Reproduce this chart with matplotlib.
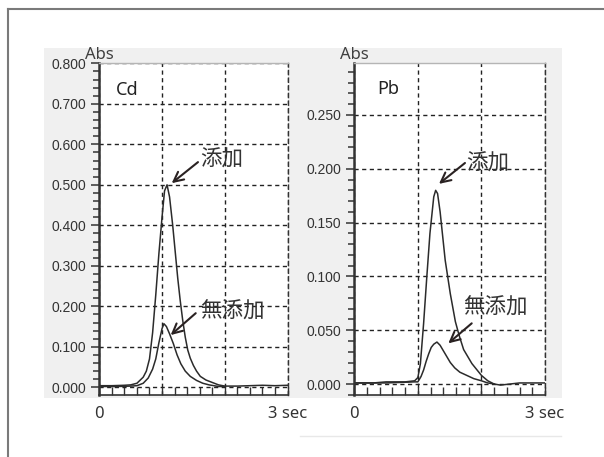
import matplotlib
matplotlib.use("Agg")
import matplotlib.pyplot as plt
from matplotlib.patches import Rectangle
from matplotlib.lines import Line2D
from matplotlib.ticker import MultipleLocator, FormatStrFormatter

# ---------------- data ----------------
cd_add_t = [0.0, 0.2, 0.4, 0.5, 0.6, 0.7, 0.75, 0.8, 0.85, 0.9, 0.95, 1.0, 1.04, 1.08,
            1.12, 1.17, 1.21, 1.25, 1.29, 1.33, 1.37, 1.41, 1.45, 1.5, 1.55, 1.61,
            1.7, 1.8, 1.9, 2.0, 2.2, 2.4, 2.6, 2.8, 3.0]
cd_add_v = [0.004, 0.004, 0.005, 0.006, 0.010, 0.025, 0.040, 0.070, 0.135, 0.228, 0.330,
            0.420, 0.485, 0.500, 0.470, 0.400, 0.335, 0.270, 0.214, 0.165, 0.124, 0.092,
            0.072, 0.054, 0.040, 0.027, 0.018, 0.012, 0.006, 0.003, 0.003, 0.004, 0.005,
            0.004, 0.005]

cd_none_t = [0.0, 0.3, 0.5, 0.6, 0.7, 0.78, 0.85, 0.9, 0.95, 1.0, 1.03, 1.07, 1.12, 1.18,
             1.24, 1.3, 1.37, 1.45, 1.55, 1.65, 1.75, 1.9, 2.0]
cd_none_v = [0.002, 0.002, 0.003, 0.004, 0.010, 0.023, 0.045, 0.070, 0.110, 0.145, 0.157,
             0.150, 0.132, 0.108, 0.080, 0.058, 0.040, 0.027, 0.017, 0.010, 0.006, 0.002,
             0.002]

pb_add_t = [0.0, 0.3, 0.5, 0.8, 0.95, 1.0, 1.04, 1.09, 1.14, 1.19, 1.25, 1.28, 1.31, 1.35,
            1.43, 1.51, 1.59, 1.65, 1.72, 1.85, 2.0, 2.1, 2.2, 2.3, 2.45, 2.6, 3.0]
pb_add_v = [0.001, 0.001, 0.002, 0.002, 0.003, 0.006, 0.019, 0.056, 0.099, 0.140, 0.174,
            0.180, 0.177, 0.160, 0.115, 0.084, 0.058, 0.045, 0.032, 0.019, 0.008, 0.003,
            0.000, -0.001, 0.000, 0.001, 0.001]

pb_none_t = [0.0, 0.5, 0.95, 1.0, 1.05, 1.09, 1.13, 1.17, 1.21, 1.25, 1.30, 1.35, 1.40,
             1.45, 1.51, 1.58, 1.66, 1.77, 1.88, 2.0, 2.1, 2.2]
pb_none_v = [0.001, 0.001, 0.002, 0.002, 0.007, 0.013, 0.021, 0.028, 0.034, 0.037, 0.039,
             0.036, 0.031, 0.026, 0.020, 0.015, 0.011, 0.008, 0.005, 0.003, 0.001, 0.000]

x_tick_vals = [0, 1, 2, 3]
x_tick_labels = ["0", "", "", "3 sec"]
panel_names = ["Cd", "Pb"]
label_add = "添加"
label_none = "無添加"

# ---------------- figure ----------------
W, H = 604, 457
fig = plt.figure(figsize=(W / 100, H / 100), dpi=100)

def fx(px):
    return px / W

def fy(py):
    return 1 - py / H

# outer frame (top and left)
fig.add_artist(Line2D([fx(8), fx(604)], [fy(9), fy(9)], color="#7a7a7a", lw=1.5,
                      transform=fig.transFigure))
fig.add_artist(Line2D([fx(8), fx(8)], [fy(9), fy(457)], color="#7a7a7a", lw=1.5,
                      transform=fig.transFigure))
# gray panel background
fig.add_artist(Rectangle((fx(44), fy(398)), fx(562) - fx(44), fy(48) - fy(398),
                         facecolor="#f0f0f0", edgecolor="none", transform=fig.transFigure,
                         zorder=0))
# faint line below right panel
fig.add_artist(Line2D([fx(300), fx(561)], [fy(436), fy(436)], color="#e8e8e8", lw=1,
                      transform=fig.transFigure))

tick_font = {"family": ["Liberation Sans", "DejaVu Sans"], "size": 10}
jp_family = ["Noto Sans CJK JP", "DejaVu Sans"]
dash = (0, (3, 2.5))


def setup_axes(rect, ylim, major, minor):
    ax = fig.add_axes(rect)
    ax.set_facecolor("white")
    ax.set_xlim(0, 3)
    ax.set_ylim(*ylim)
    ax.yaxis.set_major_locator(MultipleLocator(major))
    ax.yaxis.set_minor_locator(MultipleLocator(minor))
    ax.yaxis.set_major_formatter(FormatStrFormatter("%.3f"))
    ax.set_xticks(x_tick_vals)
    ax.set_xticklabels(x_tick_labels)
    ax.xaxis.set_minor_locator(MultipleLocator(0.2))
    ax.tick_params(axis="y", which="major", direction="out", length=6, width=1.1,
                   color="#333333", pad=3.2, labelcolor="#333333")
    ax.tick_params(axis="y", which="minor", direction="out", length=4, width=1.1,
                   color="#333333")
    ax.tick_params(axis="x", which="major", direction="in", length=6, width=1.0,
                   color="#333333", pad=8, labelcolor="#333333")
    ax.tick_params(axis="x", which="minor", direction="in", length=6, width=1.0,
                   color="#333333")
    for lab in ax.get_yticklabels():
        lab.set_fontfamily(tick_font["family"])
        lab.set_fontsize(tick_font["size"])
    for lab in ax.get_xticklabels():
        lab.set_fontfamily(["Noto Sans", "DejaVu Sans"])
        lab.set_fontsize(12)
    ax.grid(which="major", linestyle=dash, color="#222222", lw=1.0)
    ax.set_axisbelow(True)
    ax.spines["left"].set_linewidth(1.8)
    ax.spines["left"].set_color("#333333")
    ax.spines["bottom"].set_linewidth(1.2)
    ax.spines["bottom"].set_color("#333333")
    ax.spines["top"].set_color("#b5b5b5")
    ax.spines["top"].set_linewidth(1.0)
    ax.spines["right"].set_color("#333333")
    ax.spines["right"].set_linestyle(dash)
    ax.spines["right"].set_linewidth(1.0)
    ax.text(0.0, 1.0, "Abs", transform=ax.transAxes, ha="center", va="bottom",
            fontsize=12, family=["Noto Sans", "DejaVu Sans"], color="#404040")
    return ax


arrow_kw = dict(arrowstyle="->,head_length=0.7,head_width=0.35", lw=1.5,
                color="#2a2222", shrinkA=0, shrinkB=0)
jp_size = 15.5

# ---- Cd panel ----
ax1 = setup_axes([fx(99.3), fy(395), fx(287.5) - fx(99.3), fy(63.3) - fy(395)],
                 (-0.019, 0.8), 0.1, 0.02)
ax1.plot(cd_add_t, cd_add_v, color="#2b2b2b", lw=1.1)
ax1.plot(cd_none_t, cd_none_v, color="#2b2b2b", lw=1.1)
ax1.text(0.09, 0.92, panel_names[0], transform=ax1.transAxes, ha="left", va="center",
         fontsize=13, family=["Noto Sans", "DejaVu Sans"], color="#222222")
ax1.annotate("", xy=(1.154, 0.504), xytext=(1.573, 0.556), arrowprops=arrow_kw)
ax1.text(1.605, 0.562, label_add, ha="left", va="center", fontsize=jp_size,
         family=jp_family, color="#333333")
ax1.annotate("", xy=(1.138, 0.129), xytext=(1.537, 0.183), arrowprops=arrow_kw)
ax1.text(1.605, 0.188, label_none, ha="left", va="center", fontsize=jp_size,
         family=jp_family, color="#333333")

# ---- Pb panel ----
ax2 = setup_axes([fx(354.3), fy(395), fx(545) - fx(354.3), fy(62.7) - fy(395)],
                 (-0.0102, 0.2986), 0.05, 0.01)
ax2.plot(pb_add_t, pb_add_v, color="#2b2b2b", lw=1.1)
ax2.plot(pb_none_t, pb_none_v, color="#2b2b2b", lw=1.1)
ax2.text(0.12, 0.92, panel_names[1], transform=ax2.transAxes, ha="left", va="center",
         fontsize=13, family=["Noto Sans", "DejaVu Sans"], color="#222222")
ax2.annotate("", xy=(1.332, 0.186), xytext=(1.741, 0.2054), arrowprops=arrow_kw)
ax2.text(1.768, 0.2045, label_add, ha="left", va="center", fontsize=jp_size,
         family=jp_family, color="#333333")
ax2.annotate("", xy=(1.479, 0.0378), xytext=(1.847, 0.0564), arrowprops=arrow_kw)
ax2.text(1.715, 0.0706, label_none, ha="left", va="center", fontsize=jp_size,
         family=jp_family, color="#333333")

fig.savefig("out.png", dpi=100, facecolor="white")
